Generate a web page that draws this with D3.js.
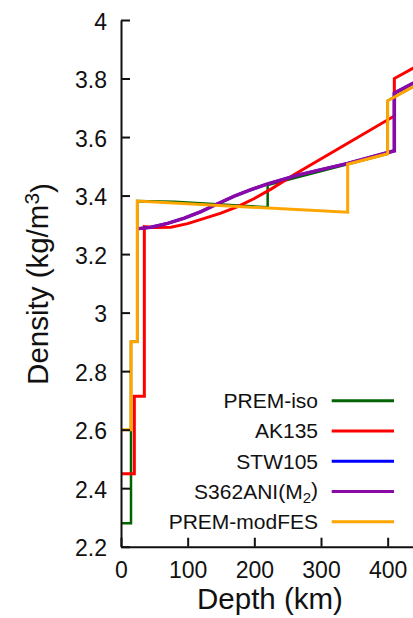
<!DOCTYPE html>
<html>
<head>
<meta charset="utf-8">
<script src="https://d3js.org/d3.v7.min.js"></script>
<style>
  body { margin: 0; background: #fff; }
  svg { display: block; font-family: "Liberation Sans", Arial, sans-serif; }
</style>
</head>
<body>
<svg id="chart" width="413" height="618"></svg>
<script>
// depth (km), density
var premIso = [[0,2.28],[15,2.28],[15,2.9],[24.4,2.9],[24.4,3.381],[80,3.379],[220,3.36],[220,3.436],[400,3.543],[400,3.724],[450,3.787]]
var ak135 = [[0,2.449],[20,2.449],[20,2.714],[35,2.714],[35,3.294],[50,3.291],[75,3.292],[100,3.304],[125,3.322],[150,3.340],[175,3.362],[200,3.390],[225,3.422],[260,3.472],[410,3.672],[410,3.800],[450,3.850]]
var stw105 = [[26,3.287],[45,3.292],[70,3.305],[95,3.323],[120,3.345],[145,3.372],[170,3.398],[195,3.420],[220,3.440],[265,3.470],[340,3.510],[410,3.553],[410,3.750],[450,3.798]]
var s362ani = [[26,3.287],[45,3.292],[70,3.305],[95,3.323],[120,3.345],[145,3.372],[170,3.398],[195,3.420],[220,3.440],[265,3.470],[340,3.510],[410,3.553],[410,3.750],[450,3.798]]
var premModFes = [[0,2.6],[15,2.6],[15,2.9],[24.4,2.9],[24.4,3.381],[340,3.343],[340,3.507],[400,3.543],[400,3.724],[450,3.787]]

var names = ["PREM-iso", "AK135", "STW105", "S362ANI(M2)", "PREM-modFES"]
var colors = ["#006400", "#ff0000", "#0000ff", "#8a0aa8", "#ffa500"]
var widths = [2.5, 3, 3, 3.5, 3]
var xTicks = [0, 100, 200, 300, 400]
var yTicks = [2.2, 2.4, 2.6, 2.8, 3, 3.2, 3.4, 3.6, 3.8, 4]

var series = [premIso, ak135, stw105, s362ani, premModFes]

var svg = d3.select("#chart")

var x = d3.scaleLinear().domain([0, 450]).range([121, 421])
var y = d3.scaleLinear().domain([2.2, 4]).range([546.7, 20])

var line = d3.line()
  .x(d => x(d[0]))
  .y(d => y(d[1]))

svg.selectAll("path.model")
  .data(series)
  .enter()
  .append("path")
  .attr("class", "model")
  .attr("d", d => line(d))
  .attr("fill", "none")
  .attr("stroke", (d, i) => colors[i])
  .attr("stroke-width", (d, i) => widths[i])
  .attr("stroke-linejoin", "miter")

var xAxis = svg.append("g")
  .attr("transform", "translate(0,546.7)")
  .call(d3.axisBottom(x).tickValues(xTicks).tickSizeInner(-9).tickSizeOuter(0).tickPadding(15))

var yAxis = svg.append("g")
  .attr("transform", "translate(121,0)")
  .call(d3.axisLeft(y).tickValues(yTicks).tickFormat(d3.format("")).tickSizeInner(-9).tickSizeOuter(0).tickPadding(14))

svg.selectAll(".domain, .tick line")
  .attr("stroke", "#111")
  .attr("stroke-width", 2)

svg.selectAll(".tick text")
  .attr("fill", "#111")
  .style("font-size", "23px")
  .style("font-family", "Liberation Sans, Arial, sans-serif")

yAxis.selectAll(".tick text").attr("dy", "0.4em")

// axis titles
svg.append("text")
  .attr("x", 270)
  .attr("y", 609)
  .attr("text-anchor", "middle")
  .style("font-size", "29.5px")
  .attr("fill", "#111")
  .text("Depth (km)")

var yt = svg.append("text")
  .attr("transform", "translate(48,284) rotate(-90)")
  .attr("text-anchor", "middle")
  .style("font-size", "29.5px")
  .attr("fill", "#111")
yt.append("tspan").text("Density (kg/m")
yt.append("tspan").attr("dy", "-0.45em").style("font-size", "21px").text("3")
yt.append("tspan").attr("dy", "0.45em").text(")")

// legend
var legend = svg.selectAll("g.legend")
  .data(names)
  .enter()
  .append("g")
  .attr("class", "legend")
  .attr("transform", (d, i) => "translate(0," + (400.7 + i * 30.25) + ")")

legend.append("line")
  .attr("x1", 331.7)
  .attr("x2", 394)
  .attr("stroke", (d, i) => colors[i])
  .attr("stroke-width", 3)

legend.append("text")
  .attr("x", 318)
  .attr("y", 7.5)
  .attr("text-anchor", "end")
  .style("font-size", "21px")
  .attr("fill", "#111")
  .each(function (d) {
    var t = d3.select(this)
    if (d == "S362ANI(M2)") {
      t.append("tspan").text("S362ANI(M")
      t.append("tspan").attr("dy", "0.3em").style("font-size", "15px").text("2")
      t.append("tspan").attr("dy", "-0.3em").text(")")
    } else {
      t.text(d)
    }
  })
</script>
</body>
</html>
